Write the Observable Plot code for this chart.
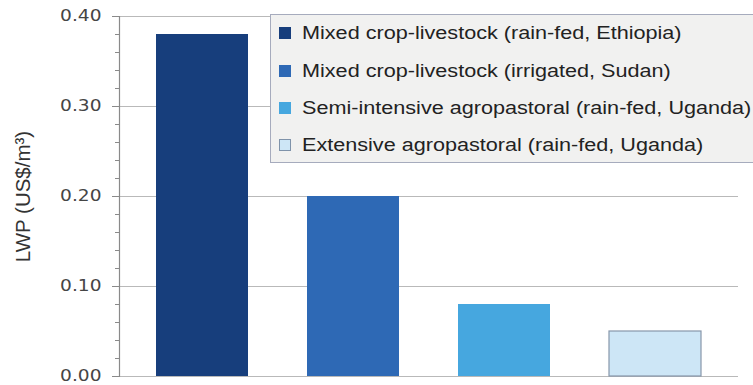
<!DOCTYPE html>
<html><head><meta charset="utf-8">
<script src="https://cdn.jsdelivr.net/npm/d3@7"></script>
<script src="https://cdn.jsdelivr.net/npm/@observablehq/plot@0.6"></script>
<style>
body{margin:0;background:#fff;}
#wrap{position:relative;width:753px;height:385px;overflow:hidden;background:#fff;}
#wrap svg{position:absolute;left:0;top:0;}
g[aria-label="y-axis tick label"] text{font-family:"DejaVu Sans",sans-serif;font-size:15.5px;fill:#454545;}
.ylab text{font-family:"Liberation Sans",Arial,sans-serif;font-size:20.5px;fill:#333;}
#legend{position:absolute;left:270px;top:14px;width:520px;height:149px;background:#f1f1f0;border:1.5px solid #a6abbd;box-sizing:border-box;}
.item{position:absolute;left:0;height:20px;}
.sw{position:absolute;left:8px;width:12px;height:12px;box-sizing:border-box;}
.lab{position:absolute;left:31px;white-space:nowrap;font-family:"Liberation Sans",Arial,sans-serif;font-size:17.5px;color:#222;transform:scaleX(1.235);transform-origin:left center;line-height:20px;}
</style></head><body><div id="wrap"></div>
<script>
const categories = [
  "Mixed crop-livestock (rain-fed, Ethiopia)",
  "Mixed crop-livestock (irrigated, Sudan)",
  "Semi-intensive agropastoral (rain-fed, Uganda)",
  "Extensive agropastoral (rain-fed, Uganda)"
];
const values = [0.38, 0.20, 0.08, 0.05];
const palette = ["#173e7c", "#2e69b5", "#46a7df", "#cde6f6"];
const majorTicks = [0, 0.10, 0.20, 0.30, 0.40];
const minorTicks = [0.02,0.04,0.06,0.08,0.12,0.14,0.16,0.18,0.22,0.24,0.26,0.28,0.32,0.34,0.36,0.38];
const yLabel = "LWP (US$/m³)";

const data = categories.map((c, i) => ({category: c, value: values[i]}));

const chart = Plot.plot({
  width: 753, height: 385,
  marginLeft: 119, marginRight: 15, marginTop: 16, marginBottom: 9,
  style: {background: "transparent"},
  x: {domain: categories, paddingInner: 0.39, paddingOuter: 0.24, axis: null},
  y: {domain: [0, 0.4]},
  color: {domain: categories, range: palette},
  marks: [
    Plot.ruleY(majorTicks, {stroke: "#b9b9b9", strokeWidth: 1.2}),
    Plot.barY(data, {x: "category", y: "value", fill: "category"}),
    Plot.barY(data.slice(3), {x: "category", y: "value", fill: "none", stroke: "#8797ab", strokeWidth: 1.2}),
    Plot.frame({anchor: "left", stroke: "#8a8a8a", strokeWidth: 1.2}),
    Plot.axisY({ticks: minorTicks, tickSize: 4, text: null, stroke: "#8a8a8a", label: null}),
    Plot.axisY({ticks: majorTicks, tickSize: 7, tickPadding: 11, tickFormat: d3.format(".2f"), stroke: "#8a8a8a", label: null}),
    Plot.text([yLabel], {frameAnchor: "left", dx: -96, dy: 0, rotate: -90, className: "ylab", textAnchor: "middle"})
  ]
});
const wrap = document.getElementById("wrap");
wrap.appendChild(chart);

// widen tick labels slightly to match the reference's stretched type
d3.select(chart).selectAll('g[aria-label="y-axis tick label"] text').each(function() {
  const t = this.getAttribute("transform");
  if (t) {
    this.setAttribute("transform", t + " scale(1.2,1)");
  } else {
    const x = +this.getAttribute("x") || 0, y = +this.getAttribute("y") || 0;
    this.removeAttribute("x"); this.removeAttribute("y");
    this.setAttribute("transform", `translate(${x},${y}) scale(1.2,1)`);
  }
});

const legend = d3.select(wrap).append("div").attr("id", "legend");
const rowTops = [8, 46, 83, 120];
categories.forEach((c, i) => {
  const it = legend.append("div").attr("class", "item").style("top", rowTops[i] + "px");
  it.append("div").attr("class", "sw")
    .style("top", "4px")
    .style("background", palette[i])
    .style("border", i === 3 ? "1px solid #7f93aa" : "none");
  it.append("div").attr("class", "lab").text(c);
});
</script></body></html>
